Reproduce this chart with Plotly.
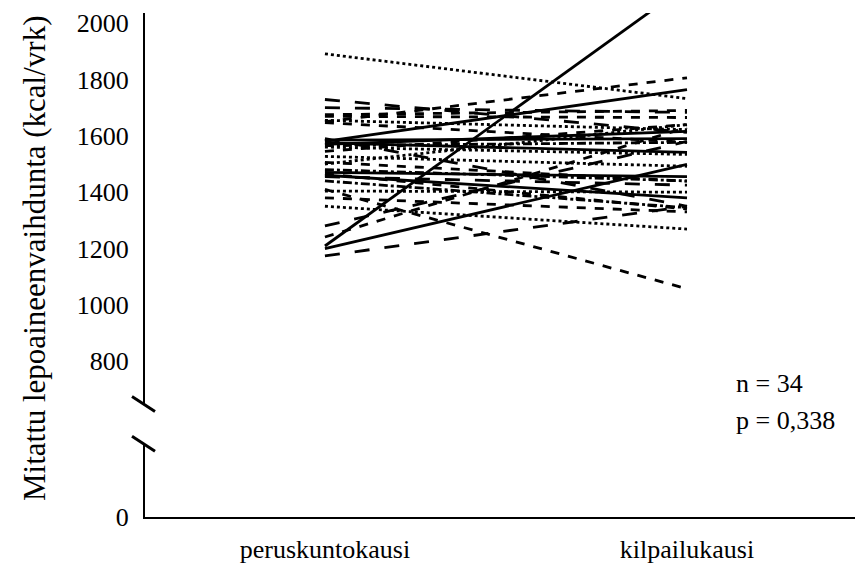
import plotly.graph_objects as go

# Measurement periods on the x axis
periods = ["peruskuntokausi", "kilpailukausi"]

# Resting metabolic rate (kcal/vrk) for each subject: base season -> competition season
base_season = [1891, 1209, 1200, 1580, 1174, 1280, 1241, 1410, 1350, 1404,
               1650, 1729, 1700, 1669, 1647, 1655, 1575, 1570, 1565, 1560,
               1527, 1506, 1470, 1460, 1465, 1455, 1480, 1500, 1545, 1590,
               1675, 1585, 1380, 1440]
competition_season = [1732, 2135, 1499, 1764, 1350, 1580, 1630, 1057, 1269, 1400,
                      1806, 1612, 1683, 1665, 1577, 1622, 1541, 1616, 1577, 1534,
                      1492, 1439, 1455, 1380, 1340, 1425, 1440, 1640, 1640, 1350,
                      1690, 1590, 1330, 1345]
line_styles = ["dot", "solid", "solid", "solid", "longdash", "longdash", "dash", "dash", "dot", "dot",
               "dash", "longdash", "longdash", "dash", "dash", "dot", "solid", "solid", "dashdot", "dot",
               "dot", "dash", "solid", "solid", "dash", "longdash", "dashdot", "dot", "dash", "longdash",
               "dash", "solid", "dash", "dashdot"]

y_ticks = [800, 1000, 1200, 1400, 1600, 1800, 2000]
stats_text = ["n = 34", "p = 0,338"]

FONT = "Liberation Serif"
W, H = 859, 568
M_L, M_R, M_T, M_B = 145, 4, 13, 49
plot_w = W - M_L - M_R
plot_h = H - M_T - M_B

def frac(py):
    """Convert a pixel row to a paper fraction."""
    return (H - M_B - py) / plot_h

upper_bottom_px = 407
lower_top_px = 445

fig = go.Figure()
for a, b, st in zip(base_season, competition_season, line_styles):
    fig.add_trace(go.Scatter(
        x=[0, 1], y=[a, b], mode="lines",
        line=dict(color="black", width=2.8, dash=st),
        xaxis="x", yaxis="y", showlegend=False, hoverinfo="skip",
    ))

# Empty trace so the lower (zero) segment of the broken axis is drawn
fig.add_trace(go.Scatter(x=[0], y=[None], mode="lines", xaxis="x", yaxis="y2",
                         showlegend=False, hoverinfo="skip"))

axis_common = dict(showline=True, linecolor="black", linewidth=2, showgrid=False,
                   zeroline=False, ticks="", tickfont=dict(family=FONT, size=26, color="black"))

fig.update_layout(
    width=W, height=H,
    margin=dict(l=M_L, r=M_R, t=M_T, b=M_B),
    plot_bgcolor="white", paper_bgcolor="white",
    xaxis=dict(range=[-0.497, 1.464], tickvals=[0, 1], ticktext=periods,
               anchor="y2", ticklabelstandoff=8, **axis_common),
    yaxis=dict(domain=[frac(upper_bottom_px), 1], range=[643, 2036],
               tickvals=y_ticks, ticklabelstandoff=9, anchor="x", **axis_common),
    yaxis2=dict(domain=[0, frac(lower_top_px)], range=[0, 300],
                tickvals=[0], ticklabelstandoff=9, anchor="x", **axis_common),
)

# Axis break marks
for py in (405.5, 445.5):
    fig.add_shape(type="line", xref="paper", yref="paper",
                  x0=-13 / plot_w, x1=10 / plot_w,
                  y0=frac(py - 7.5), y1=frac(py + 7.5),
                  line=dict(color="black", width=3))

# Y axis title
fig.add_annotation(text="Mitattu lepoaineenvaihdunta (kcal/vrk)", textangle=-90,
                   xref="paper", yref="paper", x=-(M_L - 34) / plot_w,
                   y=frac(259), xanchor="center", yanchor="middle", showarrow=False,
                   font=dict(family=FONT, size=31, color="black"))

# Sample size and p-value
for i, t in enumerate(stats_text):
    fig.add_annotation(text=t, xref="paper", yref="paper",
                       x=(734 - M_L) / plot_w, y=frac(385 + 37 * i),
                       xanchor="left", yanchor="middle", showarrow=False,
                       font=dict(family=FONT, size=26, color="black"))

fig.write_html("out.html")
